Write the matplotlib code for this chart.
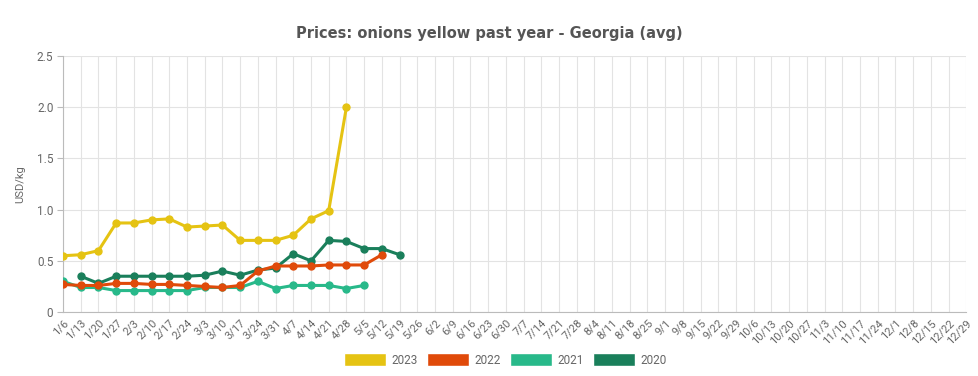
import numpy as np
import matplotlib.pyplot as plt
from matplotlib.patches import Patch

plt.rcParams["font.family"] = ["Roboto", "DejaVu Sans"]

weeks = ["1/6", "1/13", "1/20", "1/27", "2/3", "2/10", "2/17", "2/24", "3/3", "3/10",
         "3/17", "3/24", "3/31", "4/7", "4/14", "4/21", "4/28", "5/5", "5/12", "5/19",
         "5/26", "6/2", "6/9", "6/16", "6/23", "6/30", "7/7", "7/14", "7/21", "7/28",
         "8/4", "8/11", "8/18", "8/25", "9/1", "9/8", "9/15", "9/22", "9/29", "10/6",
         "10/13", "10/20", "10/27", "11/3", "11/10", "11/17", "11/24", "12/1", "12/8",
         "12/15", "12/22", "12/29"]

# values start at week index given by the offset
y2023 = [0.55, 0.56, 0.60, 0.87, 0.87, 0.90, 0.91, 0.83, 0.84, 0.85, 0.70, 0.70,
         0.70, 0.75, 0.91, 0.99, 2.00]
y2022 = [0.27, 0.26, 0.26, 0.28, 0.28, 0.27, 0.27, 0.26, 0.25, 0.24, 0.26, 0.40,
         0.45, 0.45, 0.45, 0.46, 0.46, 0.46, 0.56]
y2021 = [0.30, 0.24, 0.24, 0.21, 0.21, 0.21, 0.21, 0.21, 0.24, 0.24, 0.24, 0.30,
         0.23, 0.26, 0.26, 0.26, 0.23, 0.26]
y2020 = [0.35, 0.28, 0.35, 0.35, 0.35, 0.35, 0.35, 0.36, 0.40, 0.36, 0.41, 0.43,
         0.57, 0.50, 0.70, 0.69, 0.62, 0.62, 0.56]
start2020 = 1

series = [
    ("2023", y2023, 0, "#e5c313"),
    ("2022", y2022, 0, "#e04a0a"),
    ("2021", y2021, 0, "#28b98a"),
    ("2020", y2020, start2020, "#1a7f5b"),
]

fig = plt.figure(figsize=(9.79, 3.76), dpi=100)
ax = fig.add_axes([0.0644, 0.170, 0.9226, 0.681])

for name, vals, off, col in reversed(series):
    x = np.arange(off, off + len(vals))
    ax.plot(x, vals, color=col, lw=2.2, marker="o", ms=5, zorder=3)

ax.set_xlim(0, len(weeks) - 1)
ax.set_ylim(0, 2.5)
ax.set_xticks(np.arange(len(weeks)))
ax.set_xticklabels(weeks, rotation=45, ha="right", rotation_mode="anchor",
                   fontsize=8, color="#666666")
ax.set_yticks([0, 0.5, 1.0, 1.5, 2.0, 2.5])
ax.set_yticklabels(["0", "0.5", "1.0", "1.5", "2.0", "2.5"], fontsize=8.5, color="#666666")
ax.tick_params(axis="x", length=0, pad=4)
ax.tick_params(axis="y", length=4, color="#bbbbbb", pad=3)
ax.grid(True, color="#e3e3e3", lw=0.8)
for s in ["top", "right"]:
    ax.spines[s].set_visible(False)
for s in ["left", "bottom"]:
    ax.spines[s].set_color("#bbbbbb")
ax.set_ylabel("USD/kg", fontsize=8, color="#666666", labelpad=8)

fig.text(0.5, 0.9, "Prices: onions yellow past year - Georgia (avg)", ha="center",
         fontsize=10.5, fontweight="bold", color="#555555", family="DejaVu Sans")

handles = [Patch(facecolor=c, edgecolor="white", label=n) for n, _, _, c in series]
fig.legend(handles=handles, loc="center", bbox_to_anchor=(0.516, 0.043), ncol=4,
           frameon=False, fontsize=8.5, handlelength=3.6, handleheight=1.3,
           columnspacing=0.8, handletextpad=0.4, labelcolor="#666666")

fig.savefig("out.png", dpi=100)
